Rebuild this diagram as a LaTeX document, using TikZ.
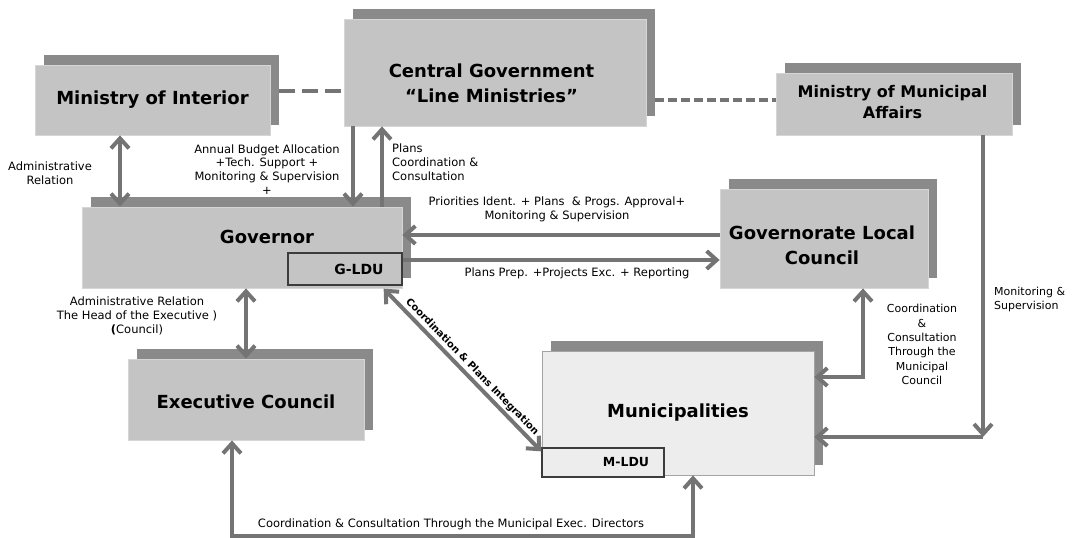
\documentclass[tikz,border=0pt]{standalone}
\usepackage{fontspec}
\setmainfont{DejaVu Sans}
\usetikzlibrary{arrows.meta,calc}

\definecolor{boxfill}{HTML}{C4C4C4}
\definecolor{boxedge}{HTML}{D6D6D6}
\definecolor{shadowgrey}{HTML}{8A8A8A}
\definecolor{munifill}{HTML}{EDEDED}
\definecolor{muniedge}{HTML}{A4A4A4}
\definecolor{arrowgrey}{HTML}{747474}
\definecolor{unitedge}{HTML}{3C3C3C}

\newcommand\titlesize{\fontsize{18}{25}\selectfont\bfseries}
\newcommand\lblsize{\fontsize{11.5}{13.8}\selectfont}

% shadowed panel: name, centre x, centre y, width, height, front style
\newcommand\panelbox[6]{%
  \node[shadowbox, minimum width=#4, minimum height=#5] (#1-s) at (#2+9,#3-10) {};
  \node[#6, minimum width=#4, minimum height=#5] (#1) at (#2,#3) {};}

\begin{document}
\begin{tikzpicture}[x=1pt,y=-1pt,
  shadowbox/.style={rectangle, fill=shadowgrey, inner sep=0pt},
  frontbox/.style={rectangle, fill=boxfill, draw=boxedge, line width=0.8pt, inner sep=0pt},
  munibox/.style={rectangle, fill=munifill, draw=muniedge, line width=0.8pt, inner sep=0pt},
  unitbox/.style={rectangle, draw=unitedge, line width=1.3pt, inner sep=0pt},
  title/.style={font=\titlesize, align=center, inner sep=0pt},
  lbl/.style={font=\lblsize, align=center, inner sep=1pt},
  tipbarb/.tip={Straight Barb[length=10pt,width=18pt]},
  arr/.style={draw=arrowgrey, line width=4pt, -tipbarb},
  dbl/.style={draw=arrowgrey, line width=4pt, tipbarb-tipbarb},
  dashthick/.style={draw=arrowgrey, line width=4.5pt, dash pattern=on 16pt off 7pt},
  dashthin/.style={draw=arrowgrey, line width=3.5pt, dash pattern=on 9pt off 4pt}]

\fill[white] (0,0) rectangle (1072,538);
\useasboundingbox (0,0) rectangle (1072,538);

% ---- panels ----
\panelbox{moi}{152.5}{100}{235}{70}{frontbox}
\panelbox{cg}{495}{72.5}{302}{107}{frontbox}
\panelbox{mma}{894}{104}{236}{62}{frontbox}
\panelbox{gov}{242}{247.5}{320}{81}{frontbox}
\panelbox{glc}{824}{238.5}{208}{99}{frontbox}
\panelbox{exec}{246}{399.5}{236}{81}{frontbox}
\panelbox{muni}{678}{413}{272}{124}{munibox}

% local development units inside the panels
\node[unitbox, fill=boxfill, minimum width=114, minimum height=32] (gldu) at (345,269) {};
\node[unitbox, fill=munifill, minimum width=122, minimum height=29] (mldu) at (603,462.5) {};

% ---- panel titles ----
\node[title] (moi-t) at (moi.center) {Ministry of Interior};
\node[title] (cg-t) at (491.5,83) {Central Government\\“Line Ministries”};
\node[title, font=\fontsize{16}{21}\selectfont\bfseries] (mma-t) at (892.5,102.5) {Ministry of Municipal\\Affairs};
\node[title] (gov-t) at (267,237) {Governor};
\node[title] (glc-t) at (822,245.5) {Governorate Local\\Council};
\node[title] (exec-t) at (246,402) {Executive Council};
\node[title] (muni-t) at (678,413) {Municipalities};
\node[title, font=\fontsize{14}{16}\selectfont\bfseries] (gldu-t) at (359,269) {G-LDU};
\node[title, font=\fontsize{12.5}{14}\selectfont\bfseries] (mldu-t) at (626,462.5) {M-LDU};

% ---- dashed links between ministries ----
\draw[dashthick] (moi-s.east |- 0,91) -- (cg.west |- 0,91);
\draw[dashthin] (cg-s.east |- 0,100) -- (mma.west |- 0,100);

% ---- relations ----
\draw[dbl] (moi.south -| 120,0) -- (gov.north -| 120,0);
\draw[arr] (cg.south -| 353,0) -- (gov.north -| 353,0);
\draw[arr] (gov.north -| 382,0) -- (cg.south -| 382,0);
\draw[arr] (glc.west |- 0,235) -- (gov.east |- 0,235);
\draw[arr] (gldu.east |- 0,260) -- (glc.west |- 0,260);
\draw[dbl] ($(gldu.south east)+(-19,3)$) --
  node[pos=0.52, sloped, above=1pt, inner sep=1pt, font=\fontsize{10}{12}\selectfont\bfseries] (diag-t)
  {Coordination \& Plans Integration} ($(mldu.north west)+(0,4)$);
\draw[dbl] (gov.south -| 246,0) -- (exec.north -| 246,0);
\draw[dbl] (exec.south -| 232,0) -- (232,536) --
  node[lbl, pos=0.475, above=3pt] (bottom-t)
  {Coordination \& Consultation Through the Municipal Exec. Directors}
  (693,536) -- (muni.south -| 693,0);
\draw[dbl] (glc.south -| 863,0) |- (muni.east |- 0,377);
\coordinate (mcorner) at (983,437);
\draw[arr] (mma.south -| 983,0) -- (mcorner);
\draw[arr] (mcorner) -- (muni.east |- mcorner);

% ---- relation labels ----
\node[lbl] (l-admin) at (50,173) {Administrative\\Relation};
\node[lbl] (l-budget) at (267,169.5) {Annual Budget Allocation\\+Tech. Support +\\Monitoring \& Supervision\\+};
\node[lbl, anchor=west, align=left] (l-plans) at (391,162) {Plans\\Coordination \&\\Consultation};
\node[lbl] (l-prio) at (557,209.5) {Priorities Ident. + Plans \ \& Progs. Approval+\\Monitoring \& Supervision};
\node[lbl] (l-prep) at (577,273) {Plans Prep. +Projects Exc. + Reporting};
\node[lbl] (l-head) at (137,316) {Administrative Relation\\The Head of the Executive )\\{\bfseries(}Council)};
\node[lbl, font=\fontsize{11}{14.3}\selectfont] (l-council) at (922,344.5) {Coordination\\\&\\Consultation\\Through the\\Municipal\\Council};
\node[lbl, anchor=west, align=left, font=\fontsize{11}{13.5}\selectfont] (l-monitor) at (993,299.5) {Monitoring \&\\Supervision};

\end{tikzpicture}
\end{document}
